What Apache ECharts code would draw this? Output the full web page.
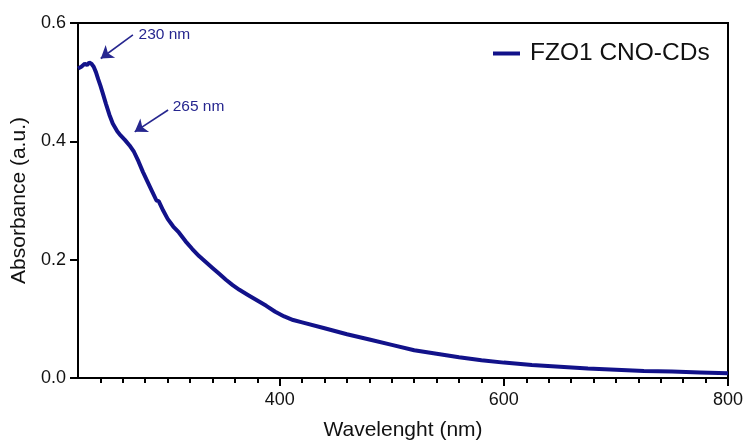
<!DOCTYPE html>
<html>
<head>
<meta charset="utf-8">
<script src="https://cdn.jsdelivr.net/npm/echarts@6/dist/echarts.min.js"></script>
<style>
  html, body { margin: 0; padding: 0; background: #fff; }
  #chart { width: 747px; height: 441px; }
</style>
</head>
<body>
<div id="chart"></div>
<script>
// UV-Vis absorption spectrum of FZO1 CNO-CDs
const seriesName = 'FZO1 CNO-CDs';

const wavelength = [
  220, 223, 226, 228, 230, 232, 234, 236, 238, 240, 242, 245, 248, 251, 255,
  258, 262, 266, 270, 274, 278, 282, 286, 290, 292, 296, 300, 305, 310, 316,
  322, 328, 334, 340, 346, 352, 358, 364, 372, 380, 388, 396, 404, 412, 420,
  440, 460, 480, 500, 520, 540, 560, 580, 600, 625, 650, 675, 700, 725, 750,
  775, 800
];

const absorbance = [
  0.523, 0.526, 0.531, 0.529, 0.533, 0.531, 0.526, 0.517, 0.505, 0.494, 0.482, 0.463, 0.445, 0.430, 0.417,
  0.410, 0.402, 0.393, 0.382, 0.366, 0.348, 0.332, 0.316, 0.300, 0.299, 0.283, 0.269, 0.256, 0.246, 0.231,
  0.218, 0.206, 0.196, 0.186, 0.176, 0.166, 0.157, 0.149, 0.140, 0.131, 0.122, 0.112, 0.104, 0.098, 0.094,
  0.084, 0.074, 0.065, 0.056, 0.047, 0.041, 0.035, 0.030, 0.026, 0.022, 0.019, 0.016, 0.014, 0.012, 0.011,
  0.0095, 0.008
];

const xMajorTicks = [400, 600, 800];
const yTicks = [0.0, 0.2, 0.4, 0.6];
const peakLabels = ['230 nm', '265 nm'];

// minor x ticks every 20 nm
const xMinorTicks = [];
for (let v = 240; v <= 800; v += 20) {
  if (xMajorTicks.indexOf(v) < 0) xMinorTicks.push(v);
}

const lineColor = '#12128a';
const noteColor = '#26268f';
const fontFamily = 'Arial, "Liberation Sans", Helvetica, sans-serif';

const points = wavelength.map((w, i) => [w, absorbance[i]]);

// arrow annotations: [tail, head] in data units, label anchored beside the tail
const notes = [
  { text: peakLabels[0], tail: [269, 0.580], head: [240.3, 0.540], at: [274, 0.580] },
  { text: peakLabels[1], tail: [300.4, 0.453], head: [270.6, 0.416], at: [304.5, 0.459] }
];

const chart = echarts.init(document.getElementById('chart'), null, { renderer: 'canvas' });

chart.setOption({
  backgroundColor: '#fff',
  animation: false,
  textStyle: { fontFamily: fontFamily },
  grid: {
    left: 78, right: 19, top: 23, bottom: 63,
    containLabel: false, outerBoundsMode: 'none',
    show: true, borderColor: '#000', borderWidth: 2, backgroundColor: 'transparent'
  },
  legend: {
    data: [{ name: seriesName, icon: 'rect' }],
    left: 488, top: 36,
    itemWidth: 27, itemHeight: 4, itemGap: 10,
    textStyle: { fontSize: 24.5, color: '#111', fontFamily: fontFamily, padding: [0, 0, 0, 5] }
  },
  xAxis: [
    {
      type: 'value', min: 220, max: 800,
      name: 'Wavelenght (nm)', nameLocation: 'middle', nameGap: 42,
      nameTextStyle: { fontSize: 21, color: '#111' },
      axisLine: { show: true, lineStyle: { color: '#000', width: 2 } },
      axisTick: { show: true, customValues: xMajorTicks, length: 8, lineStyle: { color: '#000', width: 2 } },
      axisLabel: { show: true, customValues: xMajorTicks, fontSize: 18, color: '#111', margin: 13 },
      splitLine: { show: false }
    },
    {
      type: 'value', min: 220, max: 800, position: 'bottom',
      axisLine: { show: false },
      axisTick: { show: true, customValues: xMinorTicks, length: 5, lineStyle: { color: '#000', width: 2 } },
      axisLabel: { show: false },
      splitLine: { show: false }
    }
  ],
  yAxis: {
    type: 'value', min: 0, max: 0.6,
    name: 'Absorbance (a.u.)', nameLocation: 'middle', nameGap: 43,
    nameTextStyle: { fontSize: 21, color: '#111' },
    axisLine: { show: true, lineStyle: { color: '#000', width: 2 } },
    axisTick: { show: true, customValues: yTicks, length: 8, lineStyle: { color: '#000', width: 2 } },
    axisLabel: {
      show: true, customValues: yTicks, fontSize: 18, color: '#111', margin: 12,
      formatter: v => v.toFixed(1)
    },
    splitLine: { show: false }
  },
  series: [{
    name: seriesName,
    type: 'line',
    xAxisIndex: 0,
    data: points,
    showSymbol: false,
    symbol: 'none',
    lineStyle: { color: lineColor, width: 4 },
    itemStyle: { color: lineColor },
    z: 3,
    markLine: {
      silent: true,
      symbol: ['none', 'arrow'],
      symbolSize: 12,
      label: { show: false },
      lineStyle: { color: noteColor, width: 1.6, type: 'solid' },
      itemStyle: { color: noteColor },
      data: notes.map(n => [{ coord: n.tail }, { coord: n.head }])
    },
    markPoint: {
      silent: true,
      symbol: 'circle',
      symbolSize: 0,
      data: notes.map(n => ({
        coord: n.at,
        label: {
          show: true, formatter: n.text, position: [0, 0],
          align: 'left', verticalAlign: 'middle',
          fontSize: 15.5, color: noteColor
        }
      }))
    }
  }]
});
</script>
</body>
</html>
